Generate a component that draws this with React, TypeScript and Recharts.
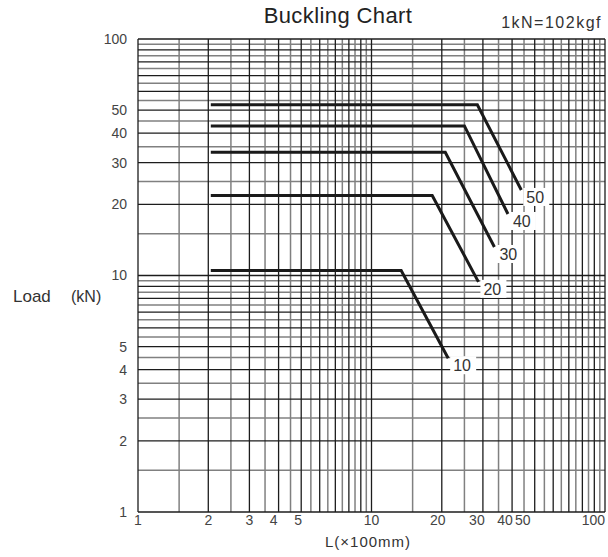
import React from 'react';
import { LineChart, Line, XAxis, YAxis, CartesianGrid } from 'recharts';

// axis ticks (log-log, 1..100 on both axes)
const xTicks = [1, 2, 3, 4, 5, 10, 20, 30, 40, 50, 100];
const yTicks = [1, 2, 3, 4, 5, 10, 20, 30, 40, 50, 100];

// grid values: integers / tens are dark, the halves / fives are grey
const gridDark = [1, 2, 3, 4, 5, 6, 7, 8, 9, 10, 20, 30, 40, 50, 60, 70, 80, 90, 100];
const gridLight = [1.5, 2.5, 3.5, 4.5, 5.5, 6.5, 7.5, 8.5, 9.5, 15, 25, 35, 45, 55, 65, 75, 85, 95];

// buckling curves, L (x100mm) vs load (kN)
const curve10 = [
  { x: 2.05, y: 10.5 },
  { x: 13.4, y: 10.5 },
  { x: 21.3, y: 4.47 },
];
const curve20 = [
  { x: 2.05, y: 21.8 },
  { x: 18.2, y: 21.8 },
  { x: 28.7, y: 9.4 },
];
const curve30 = [
  { x: 2.05, y: 33.2 },
  { x: 20.7, y: 33.2 },
  { x: 33.6, y: 13.2 },
];
const curve40 = [
  { x: 2.05, y: 42.9 },
  { x: 25.0, y: 42.9 },
  { x: 38.4, y: 18.2 },
];
const curve50 = [
  { x: 2.05, y: 52.7 },
  { x: 28.4, y: 52.7 },
  { x: 43.8, y: 23.0 },
];

const curves = [
  { name: '10', data: curve10 },
  { name: '20', data: curve20 },
  { name: '30', data: curve30 },
  { name: '40', data: curve40 },
  { name: '50', data: curve50 },
];

const font = '"Liberation Sans", Arial, sans-serif';
const xTickShift: Record<number, number> = { 4: -5, 5: -3, 20: -4, 30: -6, 40: -7, 50: -12 };

// map a value through whatever scale the grid generator hands us;
// fall back to the plot offset if the axis scale is not callable
const toPx = (axis: any, v: number, lo: number, span: number, flip: boolean) => {
  const s = axis && axis.scale;
  if (typeof s === 'function') return s(v);
  if (s && typeof s.map === 'function') return s.map(v);
  const t = Math.log10(v) / 2;
  return flip ? lo + span * (1 - t) : lo + span * t;
};

const hGen = (vals: number[]) => ({ yAxis, offset }: any) =>
  vals.map((v) => toPx(yAxis, v, offset.top, offset.height, true));
const vGen = (vals: number[]) => ({ xAxis, offset }: any) =>
  vals.map((v) => toPx(xAxis, v, offset.left, offset.width, false));

const XTick = (props: any) => {
  const { x, y, payload } = props;
  const v = payload.value;
  return (
    <text
      x={x + (xTickShift[v] ?? 0)}
      y={y}
      dy="0.75em"
      textAnchor={v === 100 ? 'end' : 'middle'}
      fontSize={14}
      fontFamily={font}
      fill="#444"
    >
      {v}
    </text>
  );
};

const YTick = (props: any) => {
  const { x, y, payload } = props;
  return (
    <text x={x} y={y} dy="0.355em" textAnchor="end" fontSize={14} fontFamily={font} fill="#444">
      {payload.value}
    </text>
  );
};

// label box at the end of each curve
const endDot = (name: string, last: number) => (props: any) => {
  const { cx, cy, index } = props;
  if (index !== last) return <g key={`d-${name}-${index}`} />;
  return (
    <g key={`d-${name}-${index}`}>
      <rect x={cx + 2} y={cy - 2} width={26} height={18} fill="#fff" />
      <text x={cx + 5} y={cy + 7} dy="0.36em" fontSize={16} fontFamily={font} fill="#333">
        {name}
      </text>
    </g>
  );
};

export default function App() {
  return (
    <div style={{ position: 'absolute', left: 0, top: 0, width: 608, height: 557, background: '#fff' }}>
      <LineChart width={608} height={557} margin={{ top: 39, right: 3, left: 0, bottom: 0 }}>
        <CartesianGrid
          stroke="#808080"
          strokeWidth={1.5}
          horizontalCoordinatesGenerator={hGen(gridLight)}
          verticalCoordinatesGenerator={vGen(gridLight)}
        />
        <CartesianGrid
          stroke="#1c1c1c"
          strokeWidth={1.3}
          horizontalCoordinatesGenerator={hGen(gridDark)}
          verticalCoordinatesGenerator={vGen(gridDark)}
        />
        <XAxis
          dataKey="x"
          type="number"
          scale="log"
          domain={[1, 100]}
          allowDataOverflow
          ticks={xTicks}
          interval={0}
          axisLine={false}
          tickLine={false}
          tickSize={0}
          tickMargin={2}
          height={45}
          tick={<XTick />}
        />
        <YAxis
          dataKey="y"
          type="number"
          scale="log"
          domain={[1, 100]}
          allowDataOverflow
          ticks={yTicks}
          interval={0}
          axisLine={false}
          tickLine={false}
          tickSize={0}
          tickMargin={11}
          width={138}
          tick={<YTick />}
        />
        {curves.map((c) => (
          <Line
            key={c.name}
            data={c.data}
            dataKey="y"
            type="linear"
            stroke="#1a1a1a"
            strokeWidth={3}
            dot={endDot(c.name, c.data.length - 1)}
            activeDot={false}
            isAnimationActive={false}
          />
        ))}
      </LineChart>
      <svg
        width={608}
        height={557}
        style={{ position: 'absolute', left: 0, top: 0, pointerEvents: 'none' }}
        fontFamily={font}
      >
        <text x={338} y={23} textAnchor="middle" fontSize={22} fill="#222" letterSpacing={0.4}>
          Buckling Chart
        </text>
        <text x={602} y={28} textAnchor="end" fontSize={16} fill="#333" letterSpacing={1.5}>
          1kN=102kgf
        </text>
        <text x={13} y={302} fontSize={17} fill="#333">
          Load
        </text>
        <text x={71} y={302} fontSize={16} fill="#333">
          (kN)
        </text>
        <text x={368} y={547} textAnchor="middle" fontSize={15} fill="#333" letterSpacing={1}>
          L(×100mm)
        </text>
      </svg>
    </div>
  );
}
